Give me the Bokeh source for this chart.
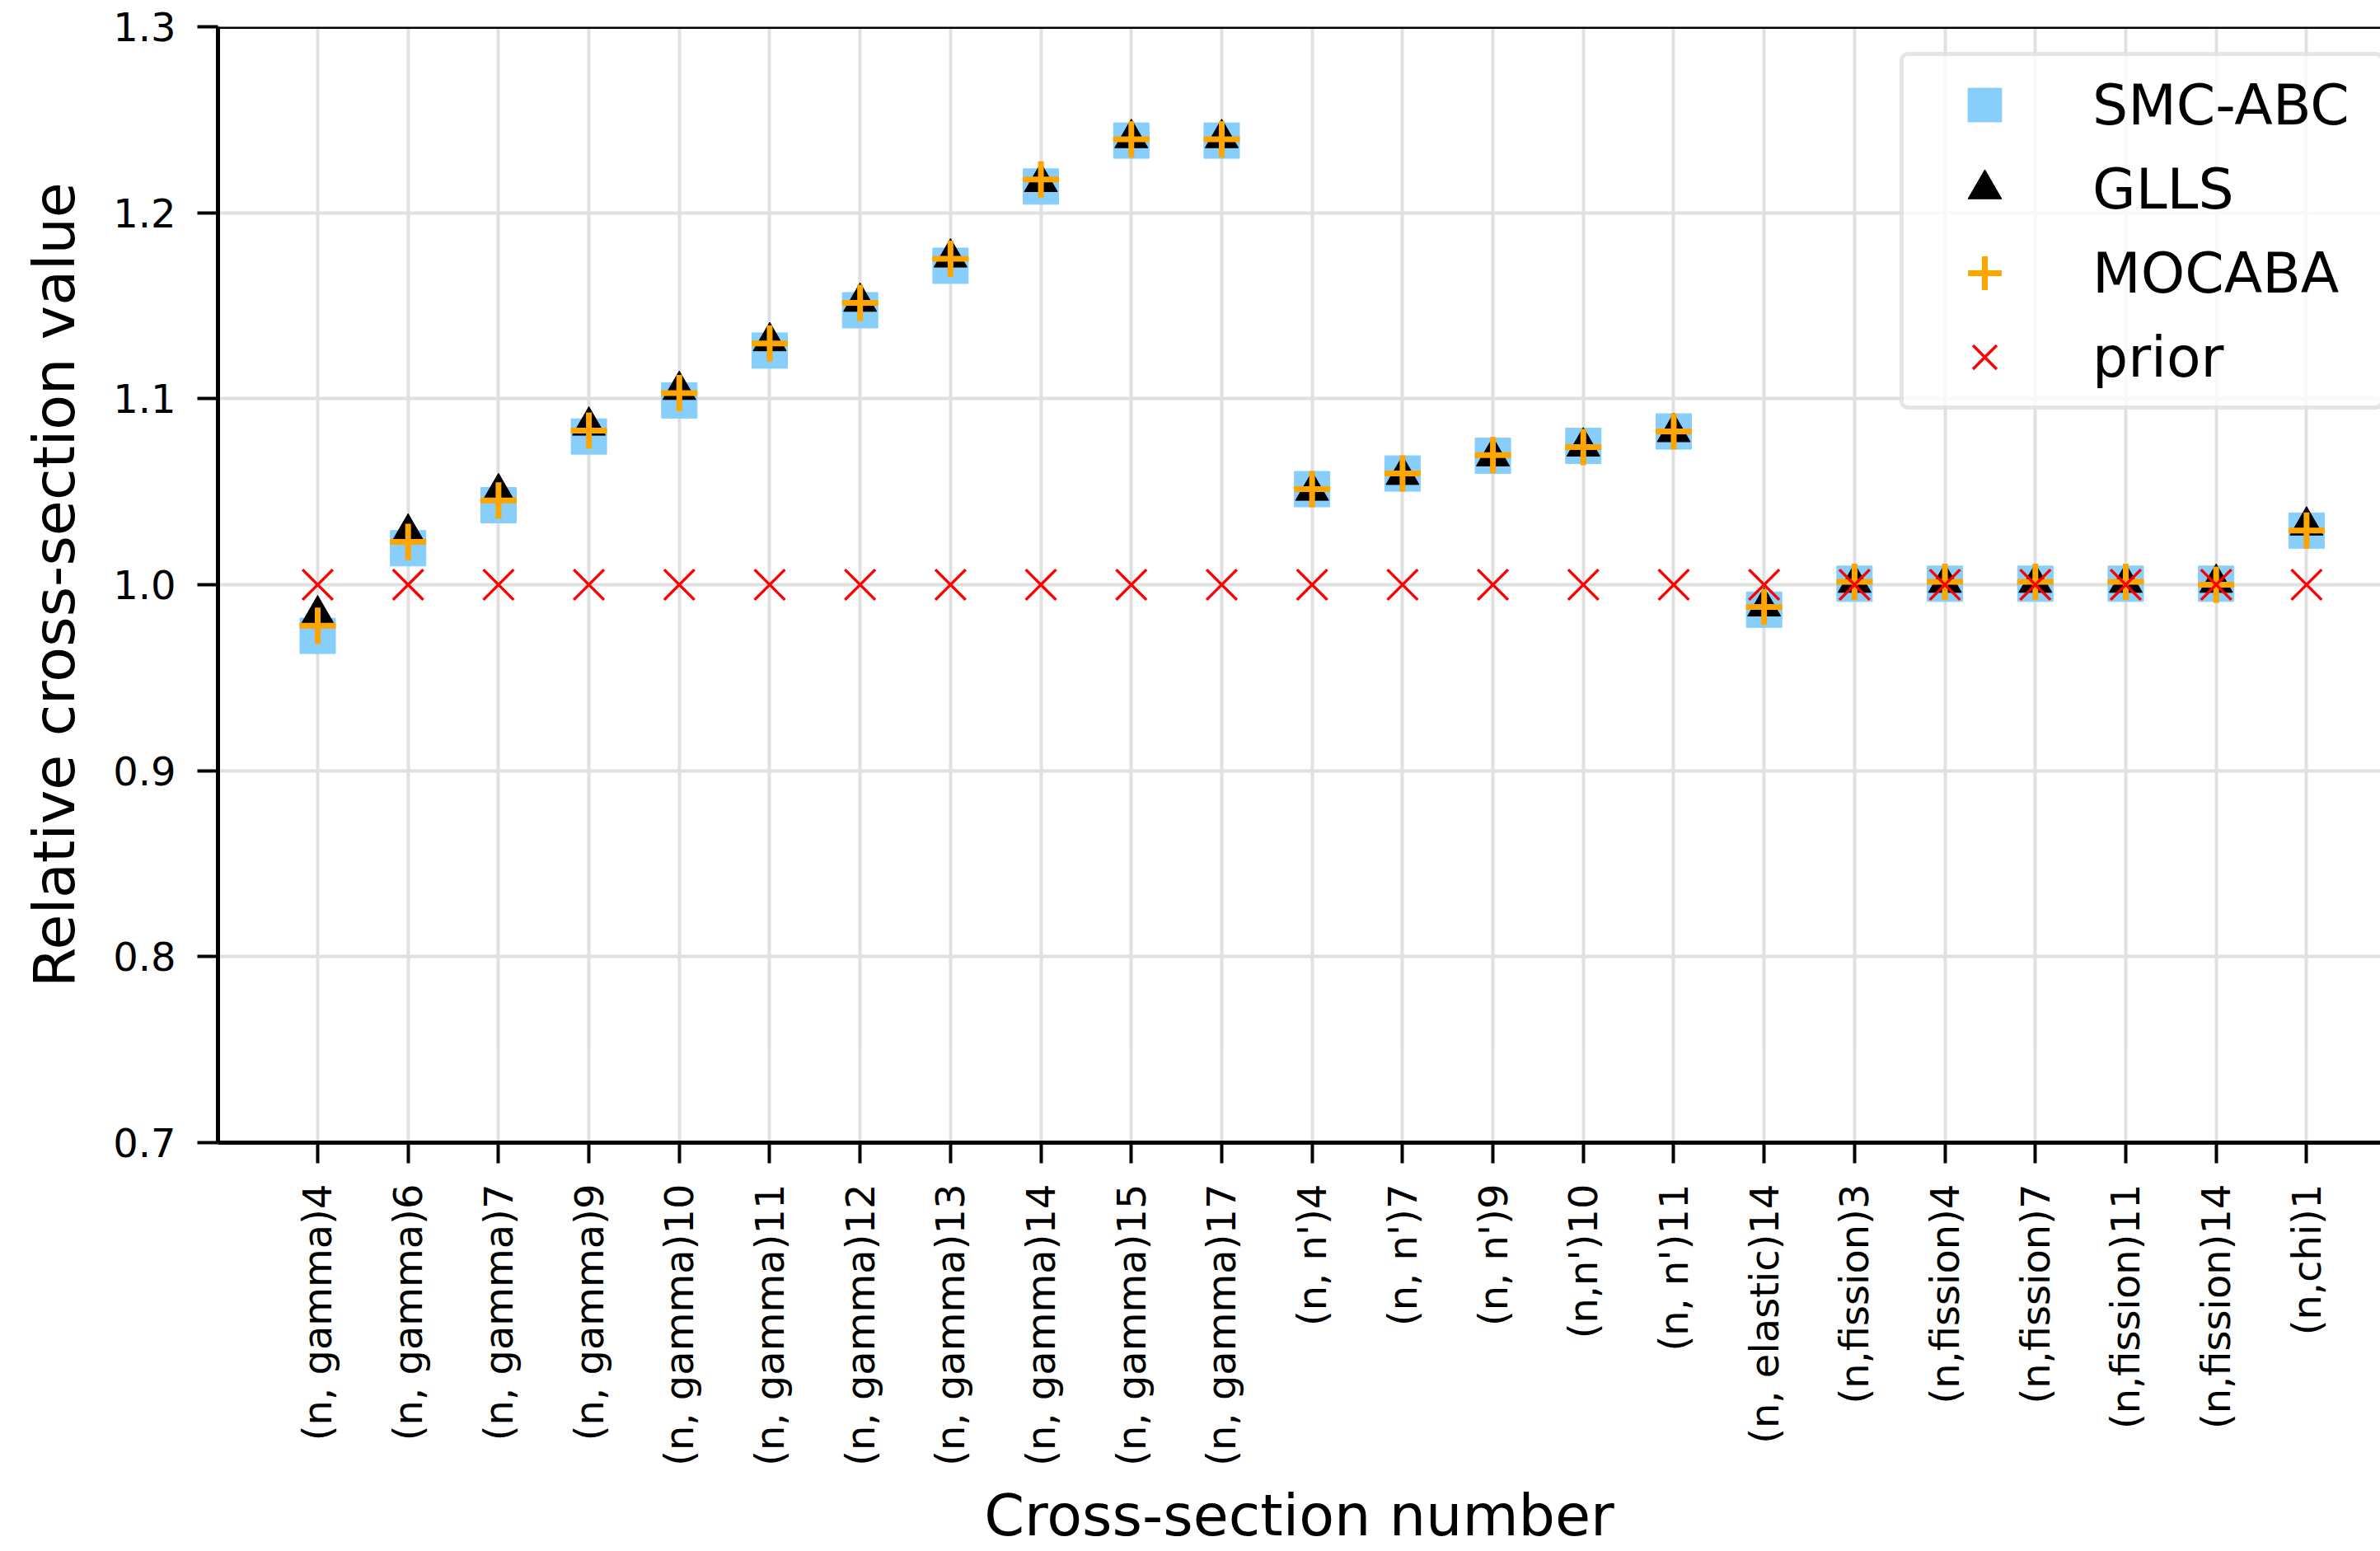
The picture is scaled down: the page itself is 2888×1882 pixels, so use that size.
from math import pi
from bokeh.plotting import figure
from bokeh.models import (Range1d, FixedTicker, PrintfTickFormatter, Span, Legend,
                          LegendItem)
from bokeh.embed import file_html
from bokeh.resources import INLINE

categories = ["(n, gamma)4", "(n, gamma)6", "(n, gamma)7", "(n, gamma)9", "(n, gamma)10",
              "(n, gamma)11", "(n, gamma)12", "(n, gamma)13", "(n, gamma)14", "(n, gamma)15",
              "(n, gamma)17", "(n, n')4", "(n, n')7", "(n, n')9", "(n,n')10", "(n, n')11",
              "(n, elastic)14", "(n,fission)3", "(n,fission)4", "(n,fission)7",
              "(n,fission)11", "(n,fission)14", "(n,chi)1"]

smc_abc = [0.9725, 1.0196, 1.0428, 1.0797, 1.0991, 1.1259, 1.1476, 1.1715, 1.2141, 1.2388,
           1.2388, 1.0514, 1.0598, 1.0693, 1.0747, 1.0824, 0.9866, 1.0005, 1.0005, 1.0005,
           1.0005, 1.0005, 1.0291]
glls = [0.984, 1.028, 1.0497, 1.0855, 1.1047, 1.1309, 1.1521, 1.1759, 1.2165, 1.2401,
        1.2401, 1.0505, 1.059, 1.069, 1.0743, 1.082, 0.9883, 1.001, 1.001, 1.001,
        1.001, 1.001, 1.0318]
mocaba = [0.978, 1.023, 1.0453, 1.0829, 1.103, 1.1297, 1.1515, 1.1753, 1.2179, 1.2395,
          1.2395, 1.0514, 1.0598, 1.0697, 1.074, 1.0824, 0.988, 1.0015, 1.0015, 1.0015,
          1.0015, 1.0, 1.0291]
prior = [1.0, 1.0, 1.0, 1.0, 1.0, 1.0, 1.0, 1.0, 1.0, 1.0, 1.0, 1.0, 1.0, 1.0, 1.0, 1.0,
         1.0, 1.0, 1.0, 1.0, 1.0, 1.0, 1.0]
y_ticks = [0.7, 0.8, 0.9, 1.0, 1.1, 1.2, 1.3]

xs = list(range(len(categories)))
FONT = "DejaVu Sans"

p = figure(width=2888, height=1882, output_backend="svg", toolbar_location=None,
           x_range=Range1d(-1.103, 22.817), y_range=Range1d(0.7, 1.3),
           min_border_left=264, min_border_right=0, min_border_top=32, min_border_bottom=496)
p.outline_line_color = None
p.background_fill_color = "white"
p.border_fill_color = "white"

# axes
xa = p.xaxis[0]
xa.ticker = FixedTicker(ticks=xs)
xa.major_label_overrides = {i: c for i, c in enumerate(categories)}
xa.major_label_orientation = pi / 2
xa.major_label_standoff = 25
xa.axis_label = "Cross-section number"
xa.axis_label_standoff = 16
xa.axis_label_text_line_height = 1.0

ya = p.yaxis[0]
ya.ticker = FixedTicker(ticks=y_ticks)
ya.formatter = PrintfTickFormatter(format="%.1f")
ya.major_label_standoff = 26
ya.axis_label = "Relative cross-section value"
ya.axis_label_standoff = 27

for ax in (xa, ya):
    ax.axis_line_width = 5
    ax.axis_line_color = "black"
    ax.major_tick_line_width = 4
    ax.major_tick_line_color = "black"
    ax.major_tick_out = 25
    ax.major_tick_in = 0
    ax.minor_tick_line_color = None
    ax.major_label_text_font = FONT
    ax.major_label_text_font_size = "48px"
    ax.major_label_text_color = "black"
    ax.axis_label_text_font = FONT
    ax.axis_label_text_font_size = "70px"
    ax.axis_label_text_font_style = "normal"
    ax.axis_label_text_color = "black"

# grid
p.xgrid.ticker = FixedTicker(ticks=xs)
p.ygrid.ticker = FixedTicker(ticks=y_ticks)
for g in (p.xgrid[0], p.ygrid[0]):
    g.grid_line_color = "#e0e0e0"
    g.grid_line_width = 4

# top spine
p.add_layout(Span(location=1.3, dimension="width", line_color="black", line_width=5))

# data
r_sq = p.scatter(xs, smc_abc, marker="square", size=43, fill_color="#87CEFA",
                 line_color="#87CEFA", line_width=1)
r_tri = p.scatter(xs, glls, marker="triangle", size=40, fill_color="black",
                  line_color="black", line_width=1)
r_plus = p.scatter(xs, mocaba, marker="cross", size=44, line_color="orange", line_width=7)
r_x = p.scatter(xs, prior, marker="x", size=52, line_color="red", line_width=3.5)

legend = Legend(items=[LegendItem(label="SMC-ABC", renderers=[r_sq]),
                       LegendItem(label="GLLS", renderers=[r_tri]),
                       LegendItem(label="MOCABA", renderers=[r_plus]),
                       LegendItem(label="prior", renderers=[r_x])],
                location=(2041, 889), glyph_width=180, glyph_height=102, spacing=0,
                padding=8, label_standoff=41, label_width=341, label_height=102,
                label_text_font=FONT, label_text_font_size="68px", label_text_color="black",
                border_line_color="#cccccc", border_line_width=5,
                background_fill_color="white", background_fill_alpha=0.8, margin=0)
if "border_radius" in Legend.properties():
    legend.border_radius = 10
p.add_layout(legend)

open("out.html", "w").write(file_html(p, INLINE))
